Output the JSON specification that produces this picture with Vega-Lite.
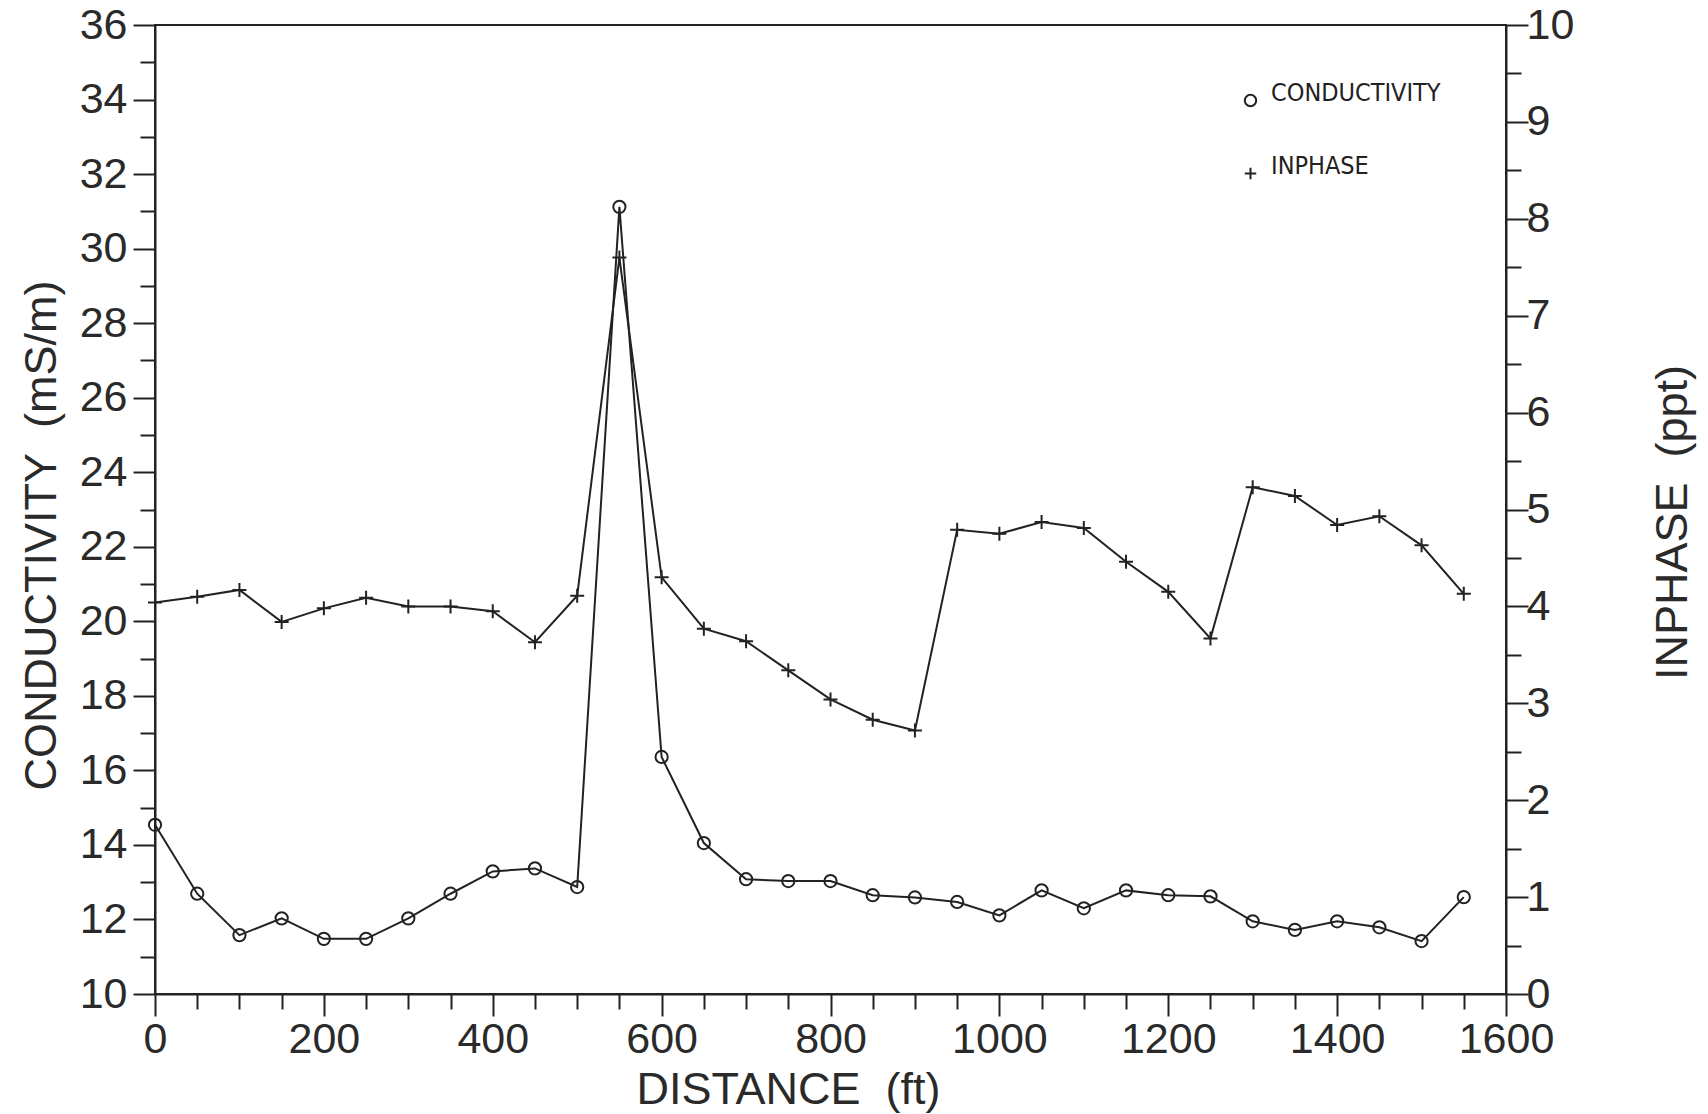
{
  "$schema": "https://vega.github.io/schema/vega-lite/v6.json",
  "width": 1351,
  "height": 969,
  "autosize": {"type": "none"},
  "padding": {"left": 155, "top": 25, "right": 202, "bottom": 120},
  "background": "white",
  "config": {
    "view": {"stroke": "#222", "strokeWidth": 2},
    "axis": {
      "domainColor": "#222", "domainWidth": 2,
      "tickColor": "#222", "tickWidth": 2,
      "labelColor": "#2a2a2a", "labelFont": "Liberation Sans", "labelFontSize": 43,
      "titleFont": "Liberation Sans", "titleFontSize": 45, "titleFontWeight": "normal", "titleColor": "#2a2a2a",
      "grid": false, "labelOverlap": false, "labelBound": false, "labelFlush": false
    },
    "legend": {
      "labelFont": "Liberation Sans Narrow, DejaVu Sans Condensed, Roboto Condensed, Liberation Sans",
      "labelFontSize": 25,
      "labelFontWeight": 500,
      "labelColor": "#222",
      "labelLimit": 0,
      "symbolStrokeColor": "#222",
      "symbolStrokeWidth": 2,
      "symbolFillColor": "transparent",
      "symbolSize": 130,
      "rowPadding": 42,
      "labelOffset": 8,
      "labelBaseline": "alphabetic"
    }
  },
  "data": {
    "values": [
      {"distance": 0, "conductivity": 14.54, "inphase": 4.04},
      {"distance": 50, "conductivity": 12.69, "inphase": 4.10},
      {"distance": 100, "conductivity": 11.58, "inphase": 4.17},
      {"distance": 150, "conductivity": 12.03, "inphase": 3.84},
      {"distance": 200, "conductivity": 11.48, "inphase": 3.98},
      {"distance": 250, "conductivity": 11.48, "inphase": 4.09},
      {"distance": 300, "conductivity": 12.03, "inphase": 4.00},
      {"distance": 350, "conductivity": 12.69, "inphase": 4.00},
      {"distance": 400, "conductivity": 13.29, "inphase": 3.95},
      {"distance": 450, "conductivity": 13.37, "inphase": 3.63},
      {"distance": 500, "conductivity": 12.87, "inphase": 4.11},
      {"distance": 550, "conductivity": 31.12, "inphase": 7.60},
      {"distance": 600, "conductivity": 16.36, "inphase": 4.30},
      {"distance": 650, "conductivity": 14.05, "inphase": 3.77},
      {"distance": 700, "conductivity": 13.08, "inphase": 3.64},
      {"distance": 750, "conductivity": 13.03, "inphase": 3.34},
      {"distance": 800, "conductivity": 13.03, "inphase": 3.04},
      {"distance": 850, "conductivity": 12.65, "inphase": 2.83},
      {"distance": 900, "conductivity": 12.59, "inphase": 2.72},
      {"distance": 950, "conductivity": 12.47, "inphase": 4.79},
      {"distance": 1000, "conductivity": 12.11, "inphase": 4.75},
      {"distance": 1050, "conductivity": 12.78, "inphase": 4.87},
      {"distance": 1100, "conductivity": 12.30, "inphase": 4.81},
      {"distance": 1150, "conductivity": 12.78, "inphase": 4.46},
      {"distance": 1200, "conductivity": 12.65, "inphase": 4.15},
      {"distance": 1250, "conductivity": 12.62, "inphase": 3.67},
      {"distance": 1300, "conductivity": 11.95, "inphase": 5.23},
      {"distance": 1350, "conductivity": 11.72, "inphase": 5.14},
      {"distance": 1400, "conductivity": 11.95, "inphase": 4.84},
      {"distance": 1450, "conductivity": 11.79, "inphase": 4.93},
      {"distance": 1500, "conductivity": 11.42, "inphase": 4.63},
      {"distance": 1550, "conductivity": 12.60, "inphase": 4.13}
    ]
  },
  "encoding": {
    "x": {
      "field": "distance", "type": "quantitative",
      "scale": {"domain": [0, 1600], "nice": false, "zero": false},
      "axis": {
        "values": [0,50,100,150,200,250,300,350,400,450,500,550,600,650,700,750,800,850,900,950,1000,1050,1100,1150,1200,1250,1300,1350,1400,1450,1500,1550,1600],
        "labelExpr": "datum.value % 200 === 0 ? format(datum.value, 'd') : ''",
        "tickSize": {"condition": {"test": "datum.value % 200 === 0", "value": 22}, "value": 15},
        "labelPadding": 2,
        "title": "DISTANCE\u00a0\u00a0(ft)",
        "titleX": 633, "titleY": 95,
        "titleAlign": "center", "titleBaseline": "middle"
      }
    }
  },
  "layer": [
    {
      "encoding": {
        "y": {
          "field": "conductivity", "type": "quantitative",
          "scale": {"domain": [10, 36], "nice": false, "zero": false},
          "axis": {
            "orient": "left",
            "values": [10,11,12,13,14,15,16,17,18,19,20,21,22,23,24,25,26,27,28,29,30,31,32,33,34,35,36],
            "labelExpr": "datum.value % 2 === 0 ? format(datum.value, 'd') : ''",
            "tickSize": {"condition": {"test": "datum.value % 2 === 0", "value": 22}, "value": 15},
            "labelPadding": 6,
            "title": "CONDUCTIVITY\u00a0\u00a0(mS/m)",
            "titleAngle": 270,
            "titleX": -114, "titleY": 510,
            "titleAlign": "center", "titleBaseline": "middle"
          }
        }
      },
      "layer": [
        {"mark": {"type": "line", "color": "#222", "strokeWidth": 2}},
        {
          "mark": {"type": "point", "filled": false, "stroke": "#222", "strokeWidth": 2, "size": 150, "opacity": 1},
          "encoding": {
            "shape": {
              "datum": "CONDUCTIVITY",
              "scale": {"domain": ["CONDUCTIVITY", "INPHASE"], "range": ["circle", "M-1,0L1,0M0,-1L0,1"]},
              "legend": {"title": null, "orient": "none", "legendX": 1083, "legendY": 63}
            }
          }
        }
      ]
    },
    {
      "encoding": {
        "y": {
          "field": "inphase", "type": "quantitative",
          "scale": {"domain": [0, 10], "nice": false, "zero": false},
          "axis": {
            "orient": "right",
            "values": [0,0.5,1,1.5,2,2.5,3,3.5,4,4.5,5,5.5,6,6.5,7,7.5,8,8.5,9,9.5,10],
            "labelExpr": "datum.value % 1 === 0 ? format(datum.value, 'd') : ''",
            "tickSize": {"condition": {"test": "datum.value % 1 === 0", "value": 22}, "value": 15},
            "labelPadding": -2,
            "title": "INPHASE\u00a0\u00a0(ppt)",
            "titleAngle": 270,
            "titleX": 166, "titleY": 497,
            "titleAlign": "center", "titleBaseline": "middle"
          }
        }
      },
      "layer": [
        {"mark": {"type": "line", "color": "#222", "strokeWidth": 2}},
        {
          "mark": {"type": "point", "filled": false, "stroke": "#222", "strokeWidth": 2, "size": 196, "opacity": 1},
          "encoding": {
            "shape": {"datum": "INPHASE"}
          }
        }
      ]
    }
  ],
  "resolve": {"scale": {"y": "independent"}}
}
